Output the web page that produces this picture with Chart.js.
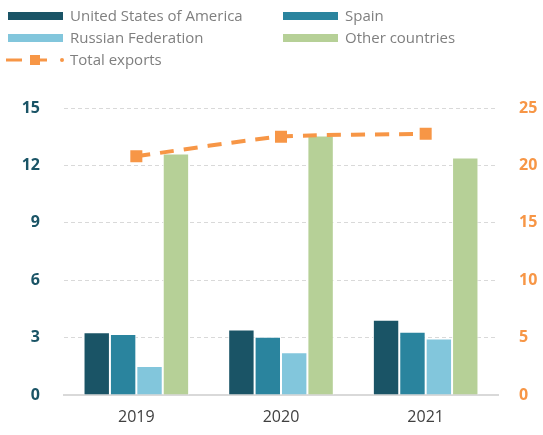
<!DOCTYPE html>
<html>
<head>
<meta charset="utf-8">
<script src="https://cdn.jsdelivr.net/npm/chart.js"></script>
<style>
  html, body { margin: 0; padding: 0; background: #fff; }
  #wrap { position: relative; width: 543px; height: 435px; }
</style>
</head>
<body>
<div id="wrap"><canvas id="chart" width="543" height="435"></canvas></div>
<script>
// data
const years = ['2019', '2020', '2021'];
const usa = [3.28, 3.42, 3.93];
const spain = [3.19, 3.05, 3.30];
const russia = [1.52, 2.23, 2.95];
const others = [12.62, 13.56, 12.41];
const totalExports = [20.8, 22.5, 22.75];

const leftTicks = [0, 3, 6, 9, 12, 15];
const rightTicks = [0, 5, 10, 15, 20, 25];

const ORANGE = '#f79646';
const FONT = "'Open Sans', 'Noto Sans', sans-serif";

// legend in two columns, like the original
const legendItems = [
  { text: 'United States of America', color: '#1a5466', col: 0, row: 0 },
  { text: 'Spain', color: '#2a849e', col: 1, row: 0 },
  { text: 'Russian Federation', color: '#82c6dc', col: 0, row: 1 },
  { text: 'Other countries', color: '#b6d097', col: 1, row: 1 },
  { text: 'Total exports', color: ORANGE, col: 0, row: 2, line: true }
];

const legendPlugin = {
  id: 'twoColLegend',
  afterDraw(chart) {
    const ctx = chart.ctx;
    ctx.save();
    ctx.font = '15px ' + FONT;
    ctx.textBaseline = 'middle';
    legendItems.forEach(it => {
      const x = it.col ? 283 : 8;
      const y = 16 + it.row * 22;
      if (it.line) {
        ctx.fillStyle = it.color;
        ctx.fillRect(6, y - 1.5, 16, 3);
        ctx.fillRect(30, y - 5, 10, 10);
        ctx.fillRect(40, y - 1.5, 7, 3);
        ctx.beginPath();
        ctx.arc(62, y, 2, 0, Math.PI * 2);
        ctx.fill();
      } else {
        ctx.fillStyle = it.color;
        ctx.fillRect(x, y - 4, 55, 8);
      }
      ctx.fillStyle = '#7f7f7f';
      ctx.fillText(it.text, x + 62, y + 1);
    });
    ctx.restore();
  }
};

const barStyle = { borderColor: '#ffffff', borderWidth: 1, yAxisID: 'y', order: 2 };

new Chart(document.getElementById('chart'), {
  type: 'bar',
  data: {
    labels: years,
    datasets: [
      Object.assign({ label: 'United States of America', data: usa, backgroundColor: '#1a5466' }, barStyle),
      Object.assign({ label: 'Spain', data: spain, backgroundColor: '#2a849e' }, barStyle),
      Object.assign({ label: 'Russian Federation', data: russia, backgroundColor: '#82c6dc' }, barStyle),
      Object.assign({ label: 'Other countries', data: others, backgroundColor: '#b6d097' }, barStyle),
      {
        type: 'line',
        label: 'Total exports',
        data: totalExports,
        yAxisID: 'y2',
        order: 1,
        borderColor: ORANGE,
        backgroundColor: ORANGE,
        borderWidth: 4,
        borderDash: [14, 10],
        pointStyle: 'rect',
        pointRadius: 8.5,
        pointBorderWidth: 0,
        tension: 0.2
      }
    ]
  },
  options: {
    responsive: false,
    animation: false,
    layout: { padding: { top: 108, left: 0, right: 0, bottom: 0 } },
    plugins: { legend: { display: false }, tooltip: { enabled: false } },
    datasets: { bar: { categoryPercentage: 0.73, barPercentage: 1 } },
    scales: {
      x: {
        grid: { display: false },
        border: { color: '#d9d9d9', width: 2 },
        ticks: { color: '#404040', font: { family: FONT, size: 16 }, padding: 5 },
        afterFit(s) { s.height = 40; }
      },
      y: {
        position: 'left',
        min: 0, max: 15,
        afterBuildTicks(s) { s.ticks = leftTicks.map(v => ({ value: v })); },
        grid: { color: '#d9d9d9', lineWidth: 1, drawTicks: false },
        border: { display: false, dash: [4, 3] },
        ticks: { color: '#1a5466', font: { family: FONT, size: 16, weight: 'bold' }, padding: 24 },
        afterFit(s) { s.width = 64; }
      },
      y2: {
        position: 'right',
        min: 0, max: 25,
        afterBuildTicks(s) { s.ticks = rightTicks.map(v => ({ value: v })); },
        grid: { display: false, drawTicks: false },
        border: { display: false },
        ticks: { color: ORANGE, font: { family: FONT, size: 16, weight: 'bold' }, padding: 21 },
        afterFit(s) { s.width = 45; }
      }
    }
  },
  plugins: [legendPlugin]
});
</script>
</body>
</html>
